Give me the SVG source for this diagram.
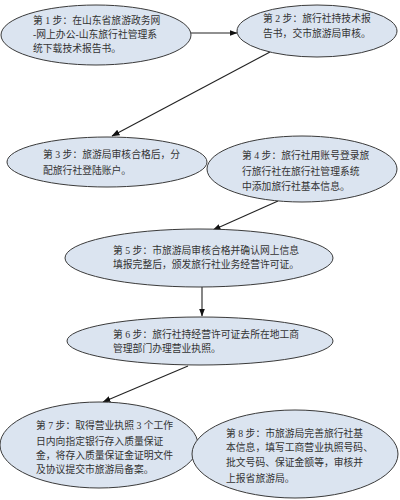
<svg xmlns="http://www.w3.org/2000/svg" width="400" height="500" viewBox="0 0 400 500">
<style>
.node ellipse{fill:#dbe4f0;stroke:#3a3a3a;stroke-width:1}
.node text{font-family:"Liberation Serif","Noto Sans CJK SC",serif;font-size:9.8px;fill:#333}
.conn line{stroke:#222;stroke-width:1.1;marker-end:url(#ah)}
</style>
<defs>
<marker id="ah" markerUnits="userSpaceOnUse" markerWidth="8" markerHeight="8" viewBox="0 0 8 8" refX="7.5" refY="4" orient="auto">
<path d="M0,1 L8,4 L0,7 Z" fill="#111"/>
</marker>
</defs>
<rect width="400" height="500" fill="#fff"/>
<g class="conn">
<line x1="191" y1="33" x2="237" y2="33"/>
<line x1="270" y1="52" x2="112" y2="136"/>
<line x1="278" y1="201" x2="213" y2="230"/>
<line x1="202" y1="287" x2="202" y2="316"/>
<line x1="188" y1="366" x2="103" y2="402"/>
</g>
<g id="step1" class="node">
<ellipse cx="96" cy="35" rx="95" ry="30"/>
<text x="33" y="24">第 1 步：在山东省旅游政务网</text>
<text x="33" y="38">-网上办公-山东旅行社管理系</text>
<text x="33" y="52">统下载技术报告书。</text>
</g>
<g id="step2" class="node">
<ellipse cx="317" cy="31" rx="80" ry="26"/>
<text x="263" y="22">第 2 步：旅行社持技术报</text>
<text x="263" y="37">告书，交市旅游局审核。</text>
</g>
<g id="step3" class="node">
<ellipse cx="107" cy="162" rx="100" ry="25"/>
<text x="43" y="158">第 3 步：旅游局审核合格后，分</text>
<text x="43" y="174">配旅行社登陆账户。</text>
</g>
<g id="step4" class="node">
<ellipse cx="302" cy="169" rx="95" ry="33"/>
<text x="242" y="159">第 4 步：旅行社用账号登录旅</text>
<text x="242" y="175">行旅行社在旅行社管理系统</text>
<text x="242" y="190">中添加旅行社基本信息。</text>
</g>
<g id="step5" class="node">
<ellipse cx="199" cy="258" rx="134" ry="29"/>
<text x="113" y="254">第 5 步：市旅游局审核合格并确认网上信息</text>
<text x="113" y="268">填报完整后，颁发旅行社业务经营许可证。</text>
</g>
<g id="step6" class="node">
<ellipse cx="200" cy="341" rx="133" ry="24"/>
<text x="113" y="338">第 6 步：旅行社持经营许可证去所在地工商</text>
<text x="113" y="352">管理部门办理营业执照。</text>
</g>
<g id="step7" class="node">
<ellipse cx="99" cy="445" rx="99" ry="43"/>
<text x="36" y="429">第 7 步：取得营业执照 3 个工作</text>
<text x="36" y="445">日内向指定银行存入质量保证</text>
<text x="36" y="459">金，将存入质量保证金证明文件</text>
<text x="36" y="473">及协议提交市旅游局备案。</text>
</g>
<g id="step8" class="node">
<ellipse cx="295" cy="454" rx="103" ry="44"/>
<text x="226" y="437">第 8 步：市旅游局完善旅行社基</text>
<text x="226" y="451">本信息，填写工商营业执照号码、</text>
<text x="226" y="466">批文号码、保证金额等，审核并</text>
<text x="226" y="482">上报省旅游局。</text>
</g>
</svg>
